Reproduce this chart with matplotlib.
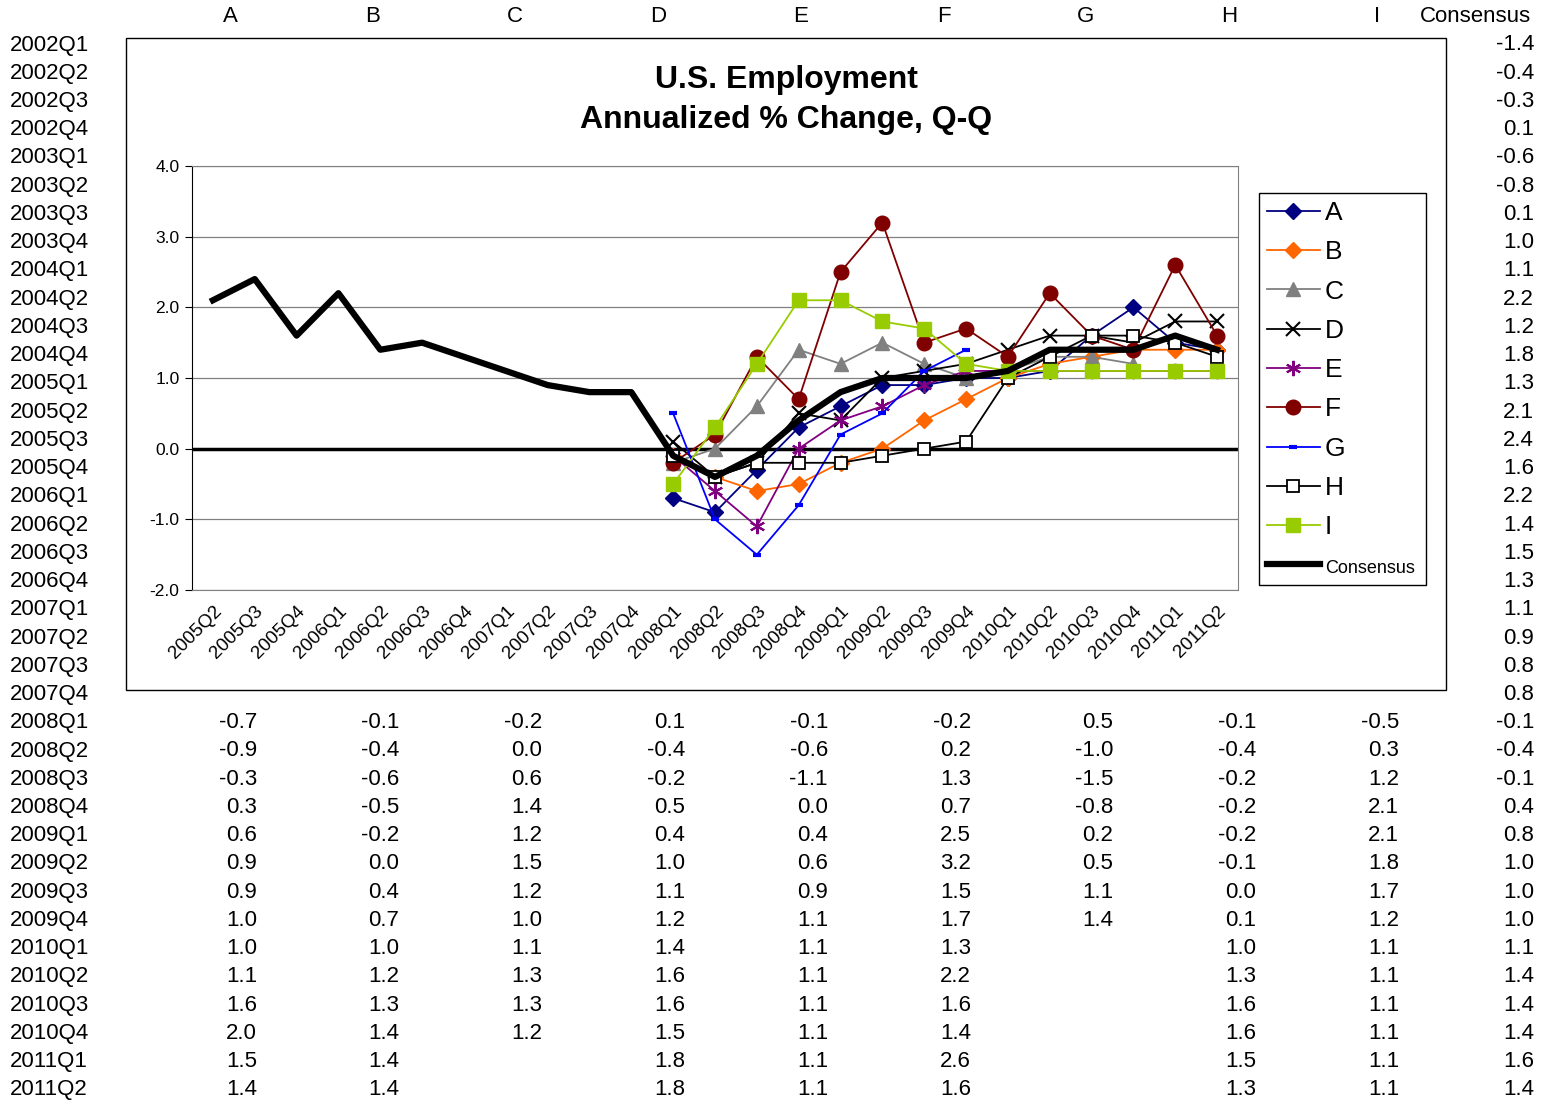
import numpy as np
import matplotlib
matplotlib.use("Agg")
import matplotlib.pyplot as plt
from matplotlib.patches import Rectangle

plt.rcParams['font.family'] = ['Liberation Sans', 'DejaVu Sans']

W, H = 1541, 1102
nan = np.nan

# quarters in the sheet (rows)
years = range(2002, 2012)
quarters = [f"{y}Q{q}" for y in years for q in range(1, 5)][:38]
chart_quarters = quarters[13:]          # 2005Q2 .. 2011Q2
fc_quarters = quarters[24:]             # 2008Q1 .. 2011Q2

consensus = [-1.4, -0.4, -0.3, 0.1,
             -0.6, -0.8, 0.1, 1.0,
             1.1, 2.2, 1.2, 1.8,
             1.3, 2.1, 2.4, 1.6,
             2.2, 1.4, 1.5, 1.3,
             1.1, 0.9, 0.8, 0.8,
             -0.1, -0.4, -0.1, 0.4,
             0.8, 1.0, 1.0, 1.0,
             1.1, 1.4, 1.4, 1.4,
             1.6, 1.4]

fc_A = [-0.7, -0.9, -0.3, 0.3, 0.6, 0.9, 0.9, 1.0, 1.0, 1.1, 1.6, 2.0, 1.5, 1.4]
fc_B = [-0.1, -0.4, -0.6, -0.5, -0.2, 0.0, 0.4, 0.7, 1.0, 1.2, 1.3, 1.4, 1.4, 1.4]
fc_C = [-0.2, 0.0, 0.6, 1.4, 1.2, 1.5, 1.2, 1.0, 1.1, 1.3, 1.3, 1.2, nan, nan]
fc_D = [0.1, -0.4, -0.2, 0.5, 0.4, 1.0, 1.1, 1.2, 1.4, 1.6, 1.6, 1.5, 1.8, 1.8]
fc_E = [-0.1, -0.6, -1.1, 0.0, 0.4, 0.6, 0.9, 1.1, 1.1, 1.1, 1.1, 1.1, 1.1, 1.1]
fc_F = [-0.2, 0.2, 1.3, 0.7, 2.5, 3.2, 1.5, 1.7, 1.3, 2.2, 1.6, 1.4, 2.6, 1.6]
fc_G = [0.5, -1.0, -1.5, -0.8, 0.2, 0.5, 1.1, 1.4, nan, nan, nan, nan, nan, nan]
fc_H = [-0.1, -0.4, -0.2, -0.2, -0.2, -0.1, 0.0, 0.1, 1.0, 1.3, 1.6, 1.6, 1.5, 1.3]
fc_I = [-0.5, 0.3, 1.2, 2.1, 2.1, 1.8, 1.7, 1.2, 1.1, 1.1, 1.1, 1.1, 1.1, 1.1]

names = ["A", "B", "C", "D", "E", "F", "G", "H", "I"]
forecasts = [fc_A, fc_B, fc_C, fc_D, fc_E, fc_F, fc_G, fc_H, fc_I]

styles = {
    "A": dict(color="#000080", marker="D", ms=8),
    "B": dict(color="#FF6600", marker="D", ms=8),
    "C": dict(color="#808080", marker="^", ms=10),
    "D": dict(color="black", marker="x", ms=10, mew=1.5),
    "E": dict(color="#800080", marker=(6, 2, 0), ms=11, mew=1.5),
    "F": dict(color="#800000", marker="o", ms=10.5),
    "G": dict(color="#0000FF", marker="_", ms=6, mew=3),
    "H": dict(color="black", marker="s", ms=9, mfc="white", mew=1.3),
    "I": dict(color="#99CC00", marker="s", ms=10),
}

fig = plt.figure(figsize=(W / 100, H / 100), dpi=100)


def put(px, py, s, **kw):
    fig.text(px / W, 1 - py / H, s, fontsize=16, va="center", **kw)


# spreadsheet: header row, row labels, values
head_x = [230, 373, 515, 658, 801, 944, 1086, 1229, 1377, 1475]
right_x = [257, 399, 542, 685, 828, 971, 1113, 1256, 1399, 1534]
for hx, name in zip(head_x, names + ["Consensus"]):
    put(hx, 17, name, ha="center")

row_y = [45 + i * 28.24 for i in range(len(quarters))]
for ry, q in zip(row_y, quarters):
    put(10, ry, q, ha="left")

first_fc = quarters.index(fc_quarters[0])
for col, vals in enumerate(forecasts):
    for i, v in enumerate(vals):
        if not np.isnan(v):
            put(right_x[col], row_y[first_fc + i], f"{v:.1f}", ha="right")
for i, v in enumerate(consensus):
    put(right_x[9], row_y[i], f"{v:.1f}", ha="right")

# embedded chart frame
fig.patches.append(Rectangle((126 / W, 1 - 690 / H), 1320 / W, 652 / H,
                             transform=fig.transFigure, fill=False,
                             ec="black", lw=1, zorder=0))
fig.patches.append(Rectangle((127 / W, 1 - 689 / H), 1318 / W, 650 / H,
                             transform=fig.transFigure, fc="white",
                             ec="none", zorder=-1))

ax = fig.add_axes([192 / W, 1 - 590 / H, 1046 / W, 424 / H])
x = np.arange(len(chart_quarters))
x_fc = np.arange(chart_quarters.index(fc_quarters[0]), len(chart_quarters))

ax.axhline(0, color="black", lw=2.5, zorder=1.5)
handles = []
for name, vals in zip(names, forecasts):
    st = styles[name]
    ln, = ax.plot(x_fc, vals, lw=1.3, label=name, zorder=3, **st)
    handles.append(ln)
cons_ln, = ax.plot(x, consensus[13:], color="black", lw=4.5,
                   label="Consensus", zorder=4, solid_joinstyle="round")
handles.append(cons_ln)

ax.set_xlim(-0.5, len(chart_quarters) - 0.5)
ax.set_ylim(-2, 4)
ax.set_yticks(np.arange(-2, 4.1, 1))
ax.set_yticklabels([f"{t:.1f}" for t in np.arange(-2, 4.1, 1)], fontsize=12.5)
ax.yaxis.grid(True, color="#808080", lw=0.9)
ax.set_axisbelow(True)
ax.set_xticks(x)
ax.set_xticklabels(chart_quarters, rotation=45, ha="right", va="top",
                   rotation_mode="anchor", fontsize=13.5)
ax.tick_params(axis="x", length=0, pad=9)
ax.tick_params(axis="y", length=5, direction="out", color="black", pad=4)
for side in ["top", "right", "bottom"]:
    ax.spines[side].set_color("#808080")
ax.spines["left"].set_color("black")

fig.text(786 / W, 1 - 100 / H, "U.S. Employment\nAnnualized % Change, Q-Q",
         ha="center", va="center", fontsize=23, fontweight="bold",
         linespacing=1.4)

leg = fig.legend(handles=handles, loc="upper left",
                 bbox_to_anchor=(1259 / W, 1 - 193 / H - 0.01, 167 / W, 0.01),
                 mode="expand", fontsize=19, handlelength=2.0,
                 handletextpad=0.2, labelspacing=0.58, borderpad=0.3,
                 borderaxespad=0, fancybox=False, framealpha=1,
                 edgecolor="black")
leg.get_frame().set_linewidth(1)
leg.get_texts()[-1].set_fontsize(13)

fig.savefig("out.png", dpi=100)
